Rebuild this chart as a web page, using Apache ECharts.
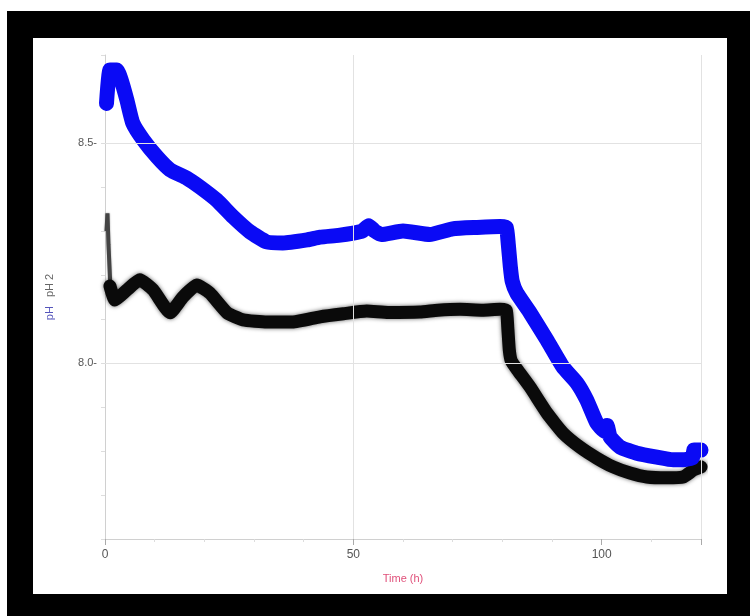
<!DOCTYPE html>
<html>
<head>
<meta charset="utf-8">
<script src="https://cdn.jsdelivr.net/npm/echarts@6/dist/echarts.min.js"></script>
<style>
html,body{margin:0;padding:0;background:#fff;}
#c{width:750px;height:616px;}
</style>
</head>
<body>
<div id="c"></div>
<script>
// pH (blue) series
var phTimes  = [0.3, 1.0, 2.4, 3.2, 4.4, 5.6, 7.7, 10.5, 13.1, 16.5, 19.1, 22.5, 25.8, 29.2, 32.6, 35.8, 40.7, 43.3, 47, 50, 51.8, 53.1, 54.3, 55.6, 60, 65.4, 70, 74.9, 79.5, 80.8, 81.2, 81.6, 82.0, 82.9, 85.6, 89, 92.2, 95, 97, 99, 100.6, 101.1, 101.7, 103.7, 107.1, 111.1, 114.4, 116.4, 118.3, 118.6, 120];
var phValues = [8.59, 8.666, 8.666, 8.645, 8.598, 8.545, 8.507, 8.468, 8.439, 8.42, 8.40, 8.37, 8.332, 8.298, 8.275, 8.273, 8.28, 8.286, 8.29, 8.295, 8.300, 8.312, 8.300, 8.292, 8.300, 8.292, 8.305, 8.308, 8.310, 8.308, 8.27, 8.22, 8.185, 8.159, 8.114, 8.052, 7.991, 7.955, 7.916, 7.864, 7.845, 7.858, 7.832, 7.809, 7.795, 7.786, 7.78, 7.78, 7.785, 7.802, 7.802];
// pH 2 (black) series
var ph2SpikeTimes  = [0.3, 0.5, 0.7, 0.9, 1.1];
var ph2SpikeValues = [8.30, 8.34, 8.27, 8.22, 8.17];
var ph2Times  = [1.0, 2.0, 4.4, 7.0, 9.7, 13.1, 15.7, 18.5, 21.1, 24.6, 27.8, 32.6, 37.8, 43.3, 48, 52.7, 57, 63.4, 67, 71.5, 76, 79.5, 80.8, 81.1, 81.4, 81.8, 83, 85.6, 89, 92.2, 95.6, 99, 102.3, 105.7, 109.1, 113.1, 116.4, 118.5, 120];
var ph2Values = [8.175, 8.143, 8.166, 8.189, 8.166, 8.114, 8.15, 8.177, 8.159, 8.114, 8.098, 8.093, 8.093, 8.105, 8.112, 8.118, 8.115, 8.116, 8.12, 8.122, 8.12, 8.122, 8.12, 8.08, 8.03, 8.005, 7.985, 7.945, 7.886, 7.841, 7.809, 7.784, 7.764, 7.75, 7.741, 7.739, 7.741, 7.757, 7.764];
// axis ticks / labels
var xMin = 0, xMax = 120, xLabels = [0, 50, 100];
var yMin = 7.6, yMax = 8.7, yLabels = [8.0, 8.5];
var xGridValues = [50, 120];
var yGridValues = [8.0, 8.5];

function pairs(t, v){ return t.map(function(x,i){ return [x, v[i]]; }); }

var chart = echarts.init(document.getElementById('c'), null, {renderer:'canvas'});
var font = 'Liberation Sans, Arial, sans-serif';
chart.setOption({
  animation: false,
  graphic: [
    {type:'rect', z:-20, silent:true, shape:{x:7, y:11, width:743, height:605}, style:{fill:'#000'}},
    {type:'rect', z:-19, silent:true, shape:{x:33, y:38, width:694, height:556}, style:{fill:'#fff'}}
  ],
  grid: {left:105, right:49, top:55, bottom:77, containLabel:false},
  xAxis: {
    type:'value', min:xMin, max:xMax, interval:50,
    name:'Time (h)', nameLocation:'middle', nameGap:34,
    nameTextStyle:{color:'#e0507a', fontSize:11, fontFamily:font},
    axisLine:{show:true, lineStyle:{color:'#d0d0d0', width:1}},
    axisTick:{show:true, length:6, lineStyle:{color:'#aaa'}},
    minorTick:{show:true, splitNumber:5, length:3, lineStyle:{color:'#ddd'}},
    splitLine:{show:false},
    axisLabel:{color:'#555', fontSize:12, fontFamily:font, margin:10, showMaxLabel:false,
      formatter:function(v){ return xLabels.indexOf(v) >= 0 ? String(v) : ''; }}
  },
  yAxis: {
    type:'value', min:yMin, max:yMax, interval:0.1,
    name:'{a|pH}   {b|pH 2}', nameLocation:'middle', nameGap:50, nameRotate:90,
    nameTextStyle:{fontSize:11, fontFamily:font, rich:{a:{color:'#5555bb', fontSize:11, fontFamily:font}, b:{color:'#666', fontSize:11, fontFamily:font}}},
    axisLine:{show:true, lineStyle:{color:'#d0d0d0', width:1}},
    axisTick:{show:true, length:4, lineStyle:{color:'#ddd'}},
    splitLine:{show:false},
    axisLabel:{color:'#555', fontSize:11, fontFamily:font, margin:8,
      formatter:function(v){
        for (var i=0;i<yLabels.length;i++){ if (Math.abs(v-yLabels[i])<1e-6) return yLabels[i].toFixed(1)+'-'; }
        return '';
      }}
  },
  series: [
    {type:'line', data:[], z:1, silent:true,
      markLine:{silent:true, symbol:'none', label:{show:false}, animation:false,
        lineStyle:{color:'#e2e2e2', width:1, type:'solid'},
        data: xGridValues.map(function(v){return {xAxis:v};}).concat(yGridValues.map(function(v){return {yAxis:v};}))}
    },
    {name:'pH 2 spike', type:'line', z:3, data:pairs(ph2SpikeTimes, ph2SpikeValues), showSymbol:false,
      lineStyle:{color:'#444', width:4, shadowBlur:2, shadowColor:'rgba(0,0,0,0.4)'}},
    {name:'pH 2', type:'line', z:3, data:pairs(ph2Times, ph2Values), showSymbol:false, smooth:0.15,
      lineStyle:{color:'#0a0a0a', width:13, shadowBlur:4, shadowColor:'rgba(0,0,0,0.6)', cap:'round', join:'round'}},
    {name:'pH', type:'line', z:4, data:pairs(phTimes, phValues), showSymbol:false, smooth:0.15,
      lineStyle:{color:'#0a0af5', width:15, cap:'round', join:'round'}}
  ]
});
</script>
</body>
</html>
